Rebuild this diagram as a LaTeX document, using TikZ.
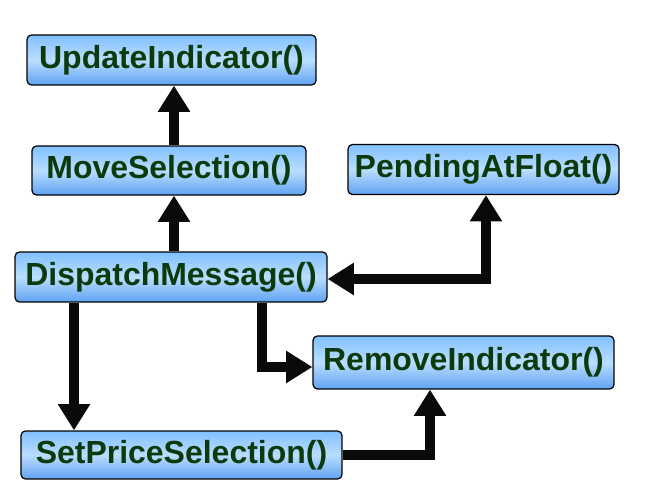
\documentclass[tikz,border=0pt]{standalone}
\usepackage{fontspec}
\setmainfont{Liberation Sans}
\usetikzlibrary{arrows.meta}
\definecolor{txtgreen}{RGB}{12,58,12}
\definecolor{boxtop}{RGB}{130,192,255}
\definecolor{boxmid}{RGB}{185,222,255}
\definecolor{boxbot}{RGB}{96,162,242}
\begin{document}
\begin{tikzpicture}[x=0.02cm,y=-0.02cm,
  fnbox/.style={draw=black, line width=0.7pt, rounded corners=2.5pt,
    top color=boxtop, bottom color=boxbot, middle color=boxmid,
    inner sep=0pt, text=txtgreen,
    font=\fontsize{18.2}{20}\selectfont\bfseries},
  conn/.style={line width=5.6pt, color={rgb,255:red,10;green,10;blue,10}, line join=miter,
    -{Triangle[width=17.5pt,length=15pt]}},
  conn2/.style={line width=5.6pt, color={rgb,255:red,10;green,10;blue,10}, line join=miter,
    {Triangle[width=17.5pt,length=15pt]}-{Triangle[width=17.5pt,length=15pt]}}]
\useasboundingbox (0,0) rectangle (650,500);
\node[fnbox, minimum width=5.78cm, minimum height=1.0cm] (update) at (171.5,60) {UpdateIndicator()};
\node[fnbox, minimum width=5.48cm, minimum height=0.98cm] (move) at (169,170.5) {MoveSelection()};
\node[fnbox, minimum width=5.42cm, minimum height=1.0cm] (pending) at (483.5,169.5) {PendingAtFloat()};
\node[fnbox, minimum width=6.24cm, minimum height=1.0cm] (dispatch) at (171,277) {DispatchMessage()};
\node[fnbox, minimum width=6.02cm, minimum height=1.06cm] (remove) at (463.5,362.5) {RemoveIndicator()};
\node[fnbox, minimum width=6.42cm, minimum height=0.96cm] (setprice) at (181.5,455) {SetPriceSelection()};
\coordinate (xa) at (174,0);
\coordinate (xb) at (486,0);
\coordinate (xc) at (74,0);
\coordinate (xd) at (262,0);
\coordinate (xe) at (430,0);
\coordinate (ya) at (0,279);
\coordinate (yb) at (0,367);
\draw[conn] (move.north -| xa) -- (update.south -| xa);
\draw[conn] (dispatch.north -| xa) -- (move.south -| xa);
\draw[conn2] (pending.south -| xb) |- (dispatch.east |- ya);
\draw[conn] (dispatch.south -| xc) -- (setprice.north -| xc);
\draw[conn] (dispatch.south -| xd) |- (remove.west |- yb);
\draw[conn] (setprice.east) -| (remove.south -| xe);
\end{tikzpicture}
\end{document}
